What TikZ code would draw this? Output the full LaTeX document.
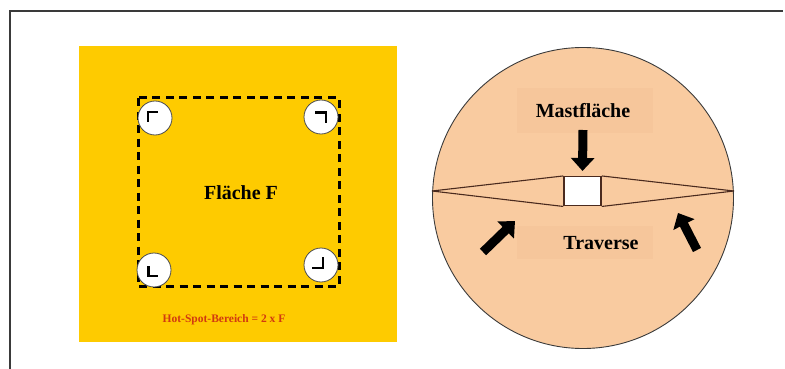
\documentclass[tikz,border=0pt]{standalone}
\usepackage{fontspec}
\setmainfont{Liberation Serif}
\usetikzlibrary{arrows.meta}
\definecolor{gold}{HTML}{FECB00}
\definecolor{peach}{HTML}{F9CBA0}
\definecolor{peachdark}{HTML}{F3BE92}
\definecolor{frame}{HTML}{3A3A3A}
\definecolor{hotred}{HTML}{D23A10}
\definecolor{brownline}{HTML}{4A2A1E}
\tikzset{
  px/.style={x=1pt,y=-1pt},
  hotspot/.style={circle,draw=black!70,line width=0.8pt,fill=white,minimum size=34pt,inner sep=0pt},
  cornermark/.style={line width=2.2pt,line cap=butt},
  label/.style={font=\bfseries\fontsize{20}{22}\selectfont,text=black},
  blockarrow/.style={line width=9pt,-{Triangle[width=23pt,length=13pt]},black},
  textbg/.style={fill=peachdark,draw=none,opacity=0.35}
}
\begin{document}
\begin{tikzpicture}[px]
\useasboundingbox (0,0) rectangle (785,369);
% frame
\draw[frame,line width=1.3pt] (10,369) -- (10,11) -- (783,11);
% left panel
\fill[gold] (79,46) rectangle (397,342);
\draw[line width=3pt,dash pattern=on 8pt off 5.5pt] (138,98) rectangle (339,286);
\node[hotspot] (tl) at (155,118) {};
\node[hotspot] (tr) at (321,117) {};
\node[hotspot] (bl) at (154,270) {};
\node[hotspot] (br) at (321,265) {};
\draw[cornermark] (157.5,112) -- (148,112) -- (148,121.5);
\draw[cornermark] (315,112.5) -- (326,112.5) -- (326,123);
\draw[cornermark] (148.5,266) -- (148.5,276) -- (158,276);
\draw[cornermark] (323,257) -- (323,268) -- (312,268);
\node[label] (flaeche) at (241,193) {Fläche F};
\node[font=\bfseries\fontsize{11.5}{13}\selectfont,text=hotred] (hot) at (224,320) {Hot-Spot-Bereich = 2 x F};
% right panel
\node[circle,draw=frame,line width=0.9pt,fill=peach,minimum size=301pt,inner sep=0pt] (disk) at (583,198) {};
\fill[textbg] (517,88) rectangle (653,133);
\fill[textbg] (517,226) rectangle (653,259);
\coordinate (lp) at (432,191);
\coordinate (rp) at (734,191);
\node[draw=brownline,line width=1.5pt,fill=white,minimum width=37pt,minimum height=29pt,inner sep=0pt] (mast) at (582.5,191.2) {};
\draw[brownline,line width=1.1pt] (lp) -- (mast.north west) (lp) -- (mast.south west)
  (rp) -- (mast.north east) (rp) -- (mast.south east);
\node[label] (mlabel) at (583,111) {Mastfläche};
\node[label] (tlabel) at (601,243) {Traverse};
\coordinate (a1s) at (583,130);
\draw[blockarrow] (a1s) -- ([yshift=5pt]mast.north);
\coordinate (a2s) at (483,252);
\coordinate (a2e) at (515,221);
\draw[blockarrow] (a2s) -- (a2e);
\coordinate (a3s) at (697,250);
\coordinate (a3e) at (678,213);
\draw[blockarrow] (a3s) -- (a3e);
\end{tikzpicture}
\end{document}
